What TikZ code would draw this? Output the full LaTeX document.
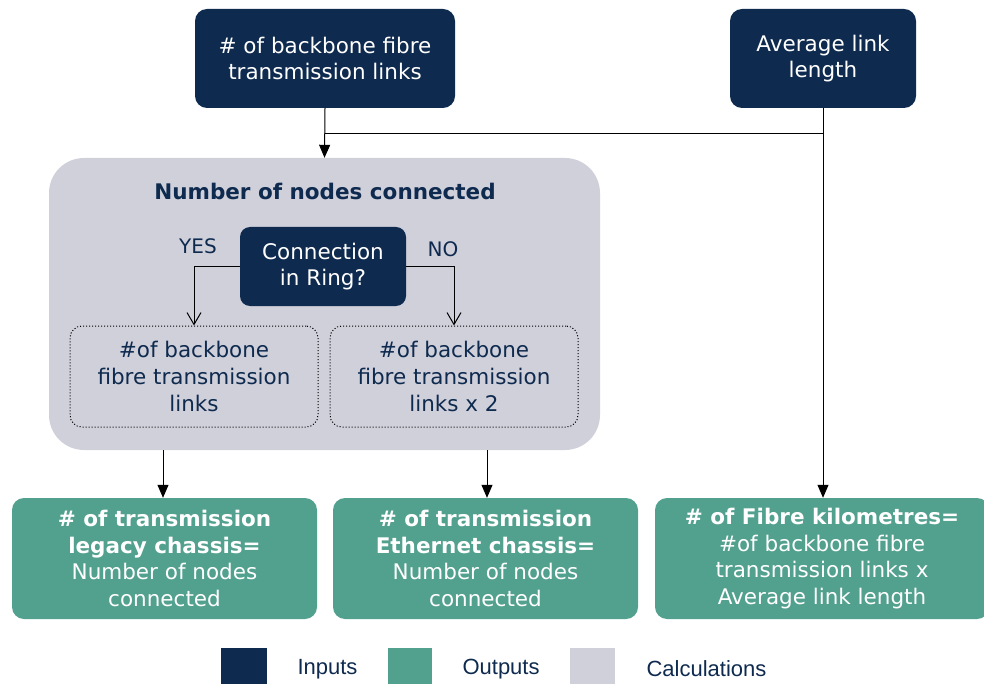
\documentclass[tikz,border=0pt]{standalone}
\usepackage{fontspec}
\setmainfont{DejaVu Sans}
\newfontfamily\legendfont{Liberation Sans}
\usetikzlibrary{arrows.meta,positioning}
\definecolor{inputblue}{HTML}{0E2A4E}
\definecolor{outputgreen}{HTML}{52A08E}
\definecolor{calcgrey}{HTML}{D0D0DB}

\begin{document}
\begin{tikzpicture}[
  x=1pt, y=-1pt,
  input/.style={fill=inputblue, text=white, rounded corners=12pt, align=center,
                inner sep=0pt, font=\fontsize{21.5}{26}\selectfont},
  output/.style={fill=outputgreen, text=white, rounded corners=12pt, align=center,
                 inner sep=0pt, minimum width=305pt, minimum height=121pt,
                 font=\fontsize{21.5}{26.5}\selectfont},
  calc/.style={fill=calcgrey, rounded corners=35pt, inner sep=0pt},
  option/.style={draw, dotted, line width=1pt, rounded corners=12pt, align=center, inner sep=0pt,
                 minimum width=248pt, minimum height=101pt, text=inputblue,
                 font=\fontsize{21.5}{27}\selectfont},
  legend/.style={minimum width=46pt, minimum height=42pt, inner sep=0pt, anchor=north west},
  keytext/.style={anchor=west, text=inputblue, font=\legendfont\fontsize{22}{24}\selectfont},
  arrow/.style={-{Triangle[length=13pt, width=11pt]}, line width=1pt},
  barb/.style={-{Straight Barb[length=12pt, width=14pt]}, line width=1pt},
  link/.style={line width=1pt}
]
\useasboundingbox (0,0) rectangle (984,684);

% inputs
\node[input, minimum width=260pt, minimum height=99pt] (links) at (325,58.5)
  {\# of backbone fibre\\transmission links};
\node[input, minimum width=186pt, minimum height=99pt] (avglength) at (823,58.5)
  {Average link\\length};

% calculation block
\node[calc, minimum width=551pt, minimum height=292pt] (nodes) at (324.5,304) {};
\node[text=inputblue, font=\fontsize{21.5}{24}\selectfont\bfseries] (title) at (325,191)
  {Number of nodes connected};
\node[input, minimum width=166pt, minimum height=79pt, rounded corners=10pt] (ring) at (323,266.5)
  {Connection\\in Ring?};
\node[option] (ringyes) at (194,376.5) {\#of backbone\\fibre transmission\\links};
\node[option] (ringno) at (454,376.5) {\#of backbone\\fibre transmission\\links x 2};
\node[text=inputblue, font=\fontsize{20}{22}\selectfont] (yes) at (198,246) {YES};
\node[text=inputblue, font=\fontsize{20}{22}\selectfont] (no) at (443,249) {NO};

% outputs
\node[output] (legacy) at (164.5,558.5)
  {\textbf{\# of transmission}\\\textbf{legacy chassis=}\\Number of nodes\\connected};
\node[output] (ethernet) at (485.5,558.5)
  {\textbf{\# of transmission}\\\textbf{Ethernet chassis=}\\Number of nodes\\connected};
\node[output, minimum width=334pt] (fibrekm) at (822,558.5)
  {\textbf{\# of Fibre kilometres=}\\\#of backbone fibre\\transmission links x\\Average link length};

% legend
\node[legend, fill=inputblue] (keyin) at (221,648) {};
\node[keytext] (keyintext) at (294,669) {Inputs};
\node[legend, fill=outputgreen, minimum width=44pt] (keyout) at (388,648) {};
\node[keytext] (keyouttext) at (459,669) {Outputs};
\node[legend, fill=calcgrey, minimum width=45pt] (keycalc) at (570,648) {};
\node[keytext] (keycalctext) at (643,669) {Calculations};

% connectors
\coordinate (join) at (325,134);
\draw[arrow] (links.south) -- (nodes.north);
\draw[link] (avglength.south |- join) -- (join);
\draw[arrow] (avglength.south) -- (fibrekm.north -| avglength.south);
\draw[barb] (ring.west) -| (ringyes.north);
\draw[barb] (ring.east) -| (ringno.north);
\draw[arrow] (nodes.south -| 163,0) -- (legacy.north -| 163,0);
\draw[arrow] (nodes.south -| 487,0) -- (ethernet.north -| 487,0);
\end{tikzpicture}
\end{document}
